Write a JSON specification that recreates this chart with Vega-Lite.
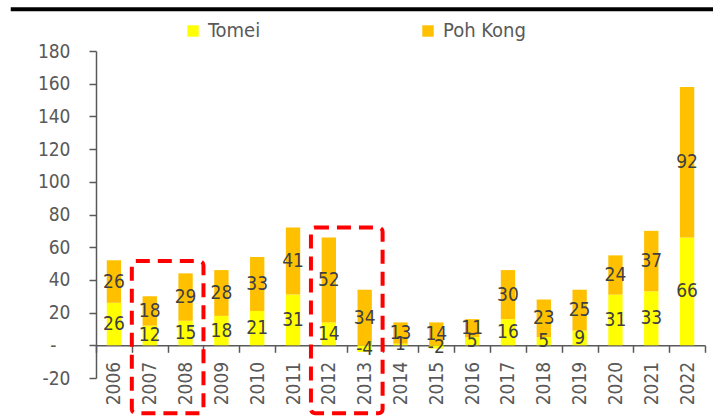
{
  "$schema": "https://vega.github.io/schema/vega-lite/v6.json",
  "width": 609,
  "height": 327,
  "autosize": {"type": "none"},
  "padding": {"left": 96, "top": 51, "right": 8, "bottom": 41},
  "config": {
    "font": "DejaVu Sans Condensed",
    "view": {"stroke": null}
  },
  "datasets": {
    "bars": [
      {"year": "2006", "series": "Tomei", "value": 26}, {"year": "2006", "series": "Poh Kong", "value": 26},
      {"year": "2007", "series": "Tomei", "value": 12}, {"year": "2007", "series": "Poh Kong", "value": 18},
      {"year": "2008", "series": "Tomei", "value": 15}, {"year": "2008", "series": "Poh Kong", "value": 29},
      {"year": "2009", "series": "Tomei", "value": 18}, {"year": "2009", "series": "Poh Kong", "value": 28},
      {"year": "2010", "series": "Tomei", "value": 21}, {"year": "2010", "series": "Poh Kong", "value": 33},
      {"year": "2011", "series": "Tomei", "value": 31}, {"year": "2011", "series": "Poh Kong", "value": 41},
      {"year": "2012", "series": "Tomei", "value": 14}, {"year": "2012", "series": "Poh Kong", "value": 52},
      {"year": "2013", "series": "Tomei", "value": -4}, {"year": "2013", "series": "Poh Kong", "value": 34},
      {"year": "2014", "series": "Tomei", "value": 1}, {"year": "2014", "series": "Poh Kong", "value": 13},
      {"year": "2015", "series": "Tomei", "value": -2}, {"year": "2015", "series": "Poh Kong", "value": 14},
      {"year": "2016", "series": "Tomei", "value": 5}, {"year": "2016", "series": "Poh Kong", "value": 11},
      {"year": "2017", "series": "Tomei", "value": 16}, {"year": "2017", "series": "Poh Kong", "value": 30},
      {"year": "2018", "series": "Tomei", "value": 5}, {"year": "2018", "series": "Poh Kong", "value": 23},
      {"year": "2019", "series": "Tomei", "value": 9}, {"year": "2019", "series": "Poh Kong", "value": 25},
      {"year": "2020", "series": "Tomei", "value": 31}, {"year": "2020", "series": "Poh Kong", "value": 24},
      {"year": "2021", "series": "Tomei", "value": 33}, {"year": "2021", "series": "Poh Kong", "value": 37},
      {"year": "2022", "series": "Tomei", "value": 66}, {"year": "2022", "series": "Poh Kong", "value": 92}
    ],
    "boxes": [
      {"start": "2007", "end": "2008", "top": 51.5, "bottom": -41.5},
      {"start": "2012", "end": "2013", "top": 72, "bottom": -41.5}
    ],
    "banner": [{"from": -0.14, "to": 1.02, "level": 205.5}]
  },
  "layer": [
    {
      "layer": [
        {
          "data": {"name": "bars"},
          "mark": {"type": "bar", "width": {"band": 0.4}},
          "encoding": {
            "x": {
              "field": "year", "type": "ordinal",
              "scale": {"paddingInner": 0, "paddingOuter": 0},
              "axis": {
                "title": null, "labelAngle": -90, "tickBand": "extent", "offset": -32.7,
                "domainColor": "#595959", "tickColor": "#595959", "tickSize": 7, "domainWidth": 1.5, "tickWidth": 1.5,
                "labelPadding": 9, "labelFontSize": 19, "labelColor": "#595959"
              }
            },
            "y": {
              "field": "value", "type": "quantitative", "stack": "zero",
              "scale": {"domain": [-20, 180], "nice": false, "zero": false},
              "axis": {
                "title": null, "grid": false, "tickCount": 10, "labelOverlap": false, "labelSeparation": 0, "labelBound": false,
                "labelExpr": "datum.value == 0 ? '-' : replace(datum.label, '\u2212', '-')",
                "labelPadding": {"condition": {"test": "datum.value == 0", "value": 33}, "value": 19},
                "domainColor": "#595959", "tickColor": "#595959", "tickSize": 7, "domainWidth": 1.5, "tickWidth": 1.5,
                "labelFontSize": 19, "labelColor": "#595959"
              }
            },
            "color": {
              "field": "series", "type": "nominal",
              "scale": {"domain": ["Tomei", "Poh Kong"], "range": ["#FFFF00", "#FFC000"]},
              "legend": {
                "orient": "none", "legendX": 87, "legendY": -30, "direction": "horizontal", "title": null,
                "symbolType": "square", "symbolSize": 130, "symbolStrokeWidth": 0, "symbolOpacity": 1,
                "labelFontSize": 20, "labelColor": "#595959", "labelOffset": 5, "columnPadding": 157
              }
            },
            "order": {"field": "series", "sort": "descending"}
          }
        },
        {
          "data": {"name": "bars"},
          "mark": {"type": "text", "fontSize": 19, "color": "#404040"},
          "encoding": {
            "x": {"field": "year", "type": "ordinal"},
            "y": {"field": "value", "type": "quantitative", "stack": "zero", "bandPosition": 0.5},
            "detail": {"field": "series"},
            "order": {"field": "series", "sort": "descending"},
            "text": {"field": "value", "type": "nominal"}
          }
        },
        {
          "data": {"name": "boxes"},
          "mark": {"type": "rect", "fill": null, "stroke": "#FF0000", "strokeWidth": 4, "strokeDash": [14, 8], "cornerRadius": 4},
          "encoding": {
            "x": {"field": "start", "type": "ordinal", "bandPosition": 0},
            "x2": {"field": "end", "bandPosition": 1},
            "y": {"field": "top", "type": "quantitative"},
            "y2": {"field": "bottom"}
          }
        }
      ]
    },
    {
      "data": {"name": "banner"},
      "mark": {"type": "rule", "stroke": "#000000", "strokeWidth": 4},
      "encoding": {
        "x": {"field": "from", "type": "quantitative", "axis": null, "scale": {"domain": [0, 1], "nice": false, "zero": false}},
        "x2": {"field": "to"},
        "y": {"field": "level", "type": "quantitative", "axis": null}
      }
    }
  ],
  "resolve": {"scale": {"x": "independent"}, "axis": {"y": "independent"}}
}
